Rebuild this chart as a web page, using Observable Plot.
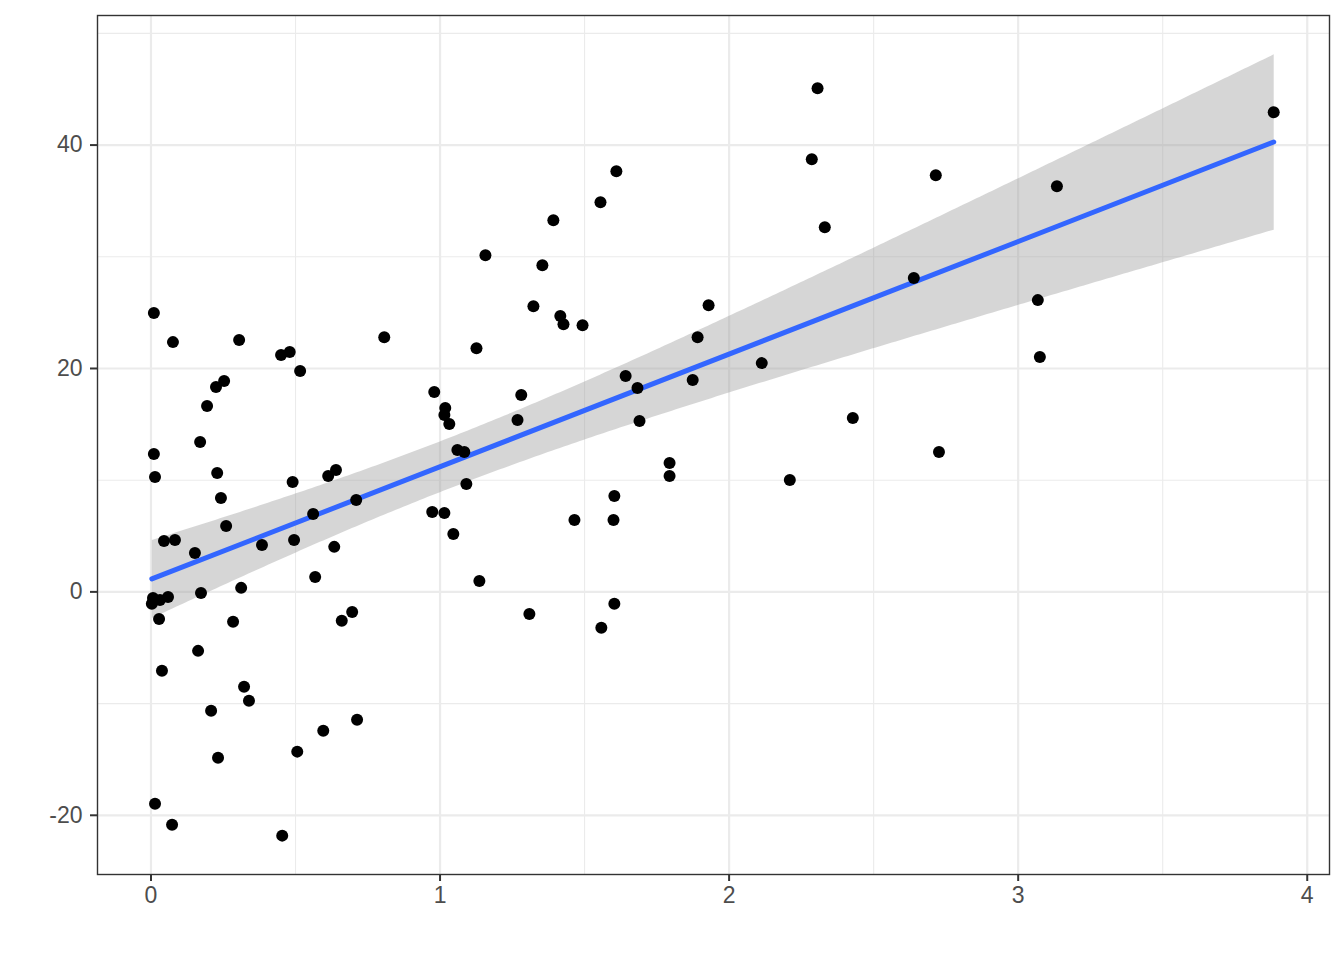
<!DOCTYPE html>
<html>
<head>
<meta charset="utf-8">
<script src="https://cdn.jsdelivr.net/npm/d3@7"></script>
<script src="https://cdn.jsdelivr.net/npm/@observablehq/plot@0.6"></script>
<style>
  html, body { margin: 0; padding: 0; background: #fff; }
</style>
</head>
<body>
<div id="chart"></div>
<script>
const xs = [
  0.010, 0.076, 0.305, 0.450, 0.480, 0.516, 0.807, 0.010, 0.014, 0.253,
  0.225, 0.194, 0.170, 0.229, 0.242, 0.260, 0.490, 0.613, 0.640, 0.561,
  0.384, 0.495, 0.634, 0.710, 0.045, 0.083, 0.152, 0.568, 0.312, 0.173,
  0.059, 0.031, 0.007, 0.003, 0.028, 0.284, 0.660, 0.696, 0.038, 0.163,
  0.322, 0.339, 0.208, 0.596, 0.713, 0.506, 0.232, 0.014, 0.073, 0.454,
  0.980, 1.018, 1.015, 1.032, 1.060, 1.084, 1.091, 0.973, 1.015, 1.046,
  1.136, 1.126, 1.157, 1.392, 1.354, 1.323, 1.416, 1.427, 1.493, 1.555,
  1.610, 1.281, 1.268, 1.309, 1.465, 1.558, 1.603, 1.603, 1.600, 1.642,
  1.683, 1.690, 1.794, 1.794, 1.874, 1.891, 1.929, 2.113, 2.210, 2.286,
  2.306, 2.331, 2.428, 2.639, 2.715, 2.726, 3.068, 3.075, 3.134, 3.884
];
const ys = [
  24.96, 22.36, 22.54, 21.20, 21.47, 19.77, 22.80, 12.34, 10.29, 18.87,
  18.34, 16.64, 13.42, 10.64, 8.41, 5.90, 9.84, 10.38, 10.91, 6.98,
  4.20, 4.65, 4.03, 8.23, 4.56, 4.65, 3.49, 1.34, 0.36, -0.09,
  -0.45, -0.72, -0.54, -1.07, -2.42, -2.68, -2.59, -1.79, -7.07, -5.28,
  -8.50, -9.75, -10.64, -12.43, -11.45, -14.30, -14.85, -18.96, -20.84, -21.82,
  17.89, 16.46, 15.83, 15.03, 12.70, 12.52, 9.66, 7.16, 7.07, 5.19,
  0.98, 21.82, 30.14, 33.27, 29.25, 25.58, 24.69, 23.97, 23.88, 34.88,
  37.66, 17.62, 15.38, -1.97, 6.44, -3.22, -1.07, 8.59, 6.44, 19.32,
  18.25, 15.30, 11.54, 10.38, 18.96, 22.80, 25.67, 20.48, 10.02, 38.73,
  45.08, 32.65, 15.56, 28.09, 37.30, 12.52, 26.12, 21.02, 36.31, 42.93
];
const xTicks = [0, 1, 2, 3, 4];
const yTicks = [-20, 0, 20, 40];
const xMinor = [0.5, 1.5, 2.5, 3.5];
const yMinor = [-10, 10, 30, 50];

const data = xs.map((x, i) => ({x, y: ys[i]}));

const chart = Plot.plot({
  width: 1344,
  height: 960,
  marginLeft: 97,
  marginRight: 15,
  marginTop: 15,
  marginBottom: 86,
  style: {fontFamily: "Liberation Sans, Arial, sans-serif", fontSize: "23px", background: "#fff"},
  x: {domain: [-0.185, 4.077]},
  y: {domain: [-25.3, 51.6]},
  marks: [
    Plot.ruleX(xMinor, {stroke: "#EBEBEB", strokeWidth: 1.1}),
    Plot.ruleY(yMinor, {stroke: "#EBEBEB", strokeWidth: 1.1}),
    Plot.ruleX(xTicks, {stroke: "#EBEBEB", strokeWidth: 2.2}),
    Plot.ruleY(yTicks, {stroke: "#EBEBEB", strokeWidth: 2.2}),
    Plot.linearRegressionY(data, {
      x: "x", y: "y", ci: 0.95,
      stroke: "#3366FF", strokeWidth: 5,
      fill: "#999999", fillOpacity: 0.4
    }),
    Plot.dot(data, {x: "x", y: "y", r: 6, fill: "#000", stroke: "none"}),
    Plot.frame({stroke: "#333333", strokeWidth: 1.4}),
    Plot.axisX({ticks: xTicks, tickSize: 7, tickPadding: 5, stroke: "#333333", strokeWidth: 2, fill: "#4D4D4D", label: null, tickFormat: d3.format("d")}),
    Plot.axisY({ticks: yTicks, tickSize: 7, tickPadding: 8, stroke: "#333333", strokeWidth: 2, fill: "#4D4D4D", label: null, tickFormat: d => d < 0 ? "-" + Math.abs(d) : String(d)})
  ]
});
document.getElementById("chart").appendChild(chart);
</script>
</body>
</html>
